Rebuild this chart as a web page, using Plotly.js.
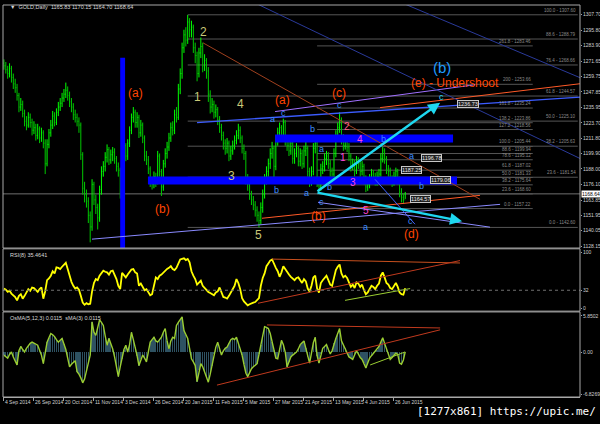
<!DOCTYPE html>
<html><head><meta charset="utf-8">
<script src="https://cdn.plot.ly/plotly-3.0.1.min.js"></script>
<style>html,body{margin:0;padding:0;background:#000;}#chart{width:600px;height:424px;}</style>
</head><body><div id="chart"></div>
<script>
// ---- price data (daily bars, 4 Sep 2014 .. 6 Jul 2015) ----
const priceClose = [1268,1265,1262,1266,1259,1254,1251,1245,1236,1238,1231,1225,1222,1228,1224,1218,1220,1214,1219,1212,1216,1208,1192,1207,1216,1222,1229,1224,1232,1236,1239,1243,1246,1249,1245,1240,1236,1230,1228,1225,1222,1199,1173,1168,1163,1152,1143,1176,1164,1158,1150,1172,1186,1190,1197,1203,1195,1199,1201,1196,1190,1187,1172,1210,1206,1198,1208,1218,1228,1232,1224,1228,1216,1222,1212,1198,1195,1188,1178,1176,1182,1178,1198,1186,1174,1192,1200,1205,1212,1220,1218,1230,1228,1250,1262,1282,1292,1288,1302,1296,1298,1282,1276,1262,1278,1283,1268,1272,1264,1246,1236,1238,1232,1234,1226,1220,1214,1208,1204,1208,1198,1202,1206,1210,1214,1218,1212,1204,1200,1180,1176,1168,1164,1160,1156,1152,1148,1158,1168,1180,1186,1192,1200,1204,1190,1210,1216,1220,1214,1224,1210,1206,1202,1208,1196,1200,1204,1194,1200,1192,1202,1204,1186,1178,1186,1204,1208,1178,1174,1188,1190,1196,1198,1192,1186,1184,1200,1214,1220,1226,1212,1206,1210,1205,1198,1190,1192,1186,1194,1192,1186,1190,1180,1174,1176,1180,1184,1182,1178,1182,1184,1196,1202,1196,1188,1186,1180,1178,1182,1186,1180,1170,1166,1164,1168.64];
const priceHigh = [1273,1271,1268,1270,1268,1262,1258,1254,1247,1243,1241,1234,1229,1232,1231,1227,1225,1223,1223,1221,1220,1218,1211,1211,1219,1226,1233,1232,1235,1240,1243,1247,1250,1255,1252,1248,1243,1239,1234,1231,1228,1224,1201,1178,1172,1166,1155,1180,1178,1168,1161,1175,1190,1194,1201,1207,1205,1203,1205,1204,1198,1193,1189,1214,1213,1208,1211,1221,1231,1236,1234,1232,1230,1226,1224,1214,1202,1198,1190,1182,1186,1185,1202,1200,1188,1195,1204,1209,1216,1224,1225,1234,1236,1254,1266,1286,1296,1298,1307.5,1305,1303,1300,1286,1279,1282,1290,1286,1277,1274,1267,1249,1243,1241,1238,1236,1229,1223,1217,1211,1212,1210,1206,1210,1214,1218,1223,1221,1214,1207,1202,1184,1179,1171,1167,1163,1159,1155,1162,1172,1184,1190,1196,1204,1209,1206,1214,1220,1224,1222,1227,1226,1213,1209,1212,1210,1204,1208,1206,1204,1203,1206,1209,1206,1189,1190,1208,1213,1210,1181,1192,1194,1200,1202,1201,1195,1189,1204,1218,1224,1232,1228,1215,1214,1212,1208,1200,1196,1195,1198,1197,1195,1194,1192,1183,1180,1184,1188,1187,1185,1186,1188,1200,1205,1204,1198,1191,1189,1183,1186,1189,1188,1182,1173,1169,1170.15];
const priceLow = [1265,1262,1258,1259,1255,1250,1247,1241,1232,1233,1228,1221,1218,1220,1220,1214,1215,1210,1211,1208,1209,1204,1184,1190,1204,1213,1219,1221,1222,1229,1233,1236,1240,1243,1241,1236,1232,1226,1224,1221,1216,1195,1168,1162,1158,1146,1131,1140,1160,1153,1141,1147,1168,1182,1186,1193,1191,1192,1194,1192,1186,1182,1165,1169,1201,1194,1195,1205,1215,1224,1220,1220,1212,1213,1208,1194,1191,1184,1174,1172,1173,1174,1176,1182,1167,1171,1189,1196,1202,1209,1214,1215,1224,1226,1246,1258,1278,1283,1285,1290,1290,1278,1270,1256,1259,1274,1263,1264,1258,1240,1231,1232,1227,1228,1222,1216,1210,1203,1199,1200,1194,1195,1199,1203,1207,1211,1208,1200,1195,1176,1171,1164,1160,1156,1151,1147,1142.6,1145,1154,1165,1176,1182,1188,1196,1180,1187,1206,1212,1210,1210,1206,1202,1198,1199,1192,1192,1197,1190,1190,1188,1189,1198,1182,1174,1175,1183,1200,1174,1169,1171,1184,1186,1191,1188,1182,1180,1181,1197,1210,1216,1207,1202,1203,1201,1194,1186,1187,1182,1184,1188,1182,1183,1176,1170,1171,1173,1177,1178,1175,1175,1179,1182,1193,1192,1184,1182,1176,1174,1175,1179,1176,1166,1162,1161,1164.70];
const rsiValues = [35,33,29,31,26,23,20,14,22,25,17,22,28,34,31,37,36,33,29,34,37,17,30,50,53,58,66,62,73,72,70,74,78,81,70,58,47,40,35,37,33,22,10,6,9,7,8,30,45,52,50,58,63,67,65,64,60,66,67,60,52,40,34,63,58,55,60,64,69,70,64,62,40,44,38,32,34,29,23,25,40,55,52,58,60,64,66,70,72,75,70,68,72,80,87,88,89,86,88,82,66,58,52,42,45,49,40,36,33,29,27,25,23,28,30,37,28,20,19,17,22,28,34,40,52,45,34,18,12,8,5,7,9,10,11,14,18,40,54,62,75,80,85,87,78,72,66,56,64,75,70,64,60,56,52,50,54,55,50,45,52,48,35,30,40,55,58,35,28,45,50,55,58,50,42,40,55,68,74,78,62,55,58,54,46,38,42,36,46,44,38,42,32,25,28,34,40,38,34,40,44,58,64,55,45,42,36,34,40,45,38,28,25,24,35.46];
const osmaValues = [-0.5,-0.8,-1.0,-0.4,0.0,-0.8,-1.5,-2.1,0.2,0.9,0.4,0.0,0.6,1.1,1.4,1.6,1.4,1.2,1.1,0.3,-0.5,-1.9,-0.2,1.6,2.3,3.0,2.8,2.5,2.0,1.6,1.9,2.2,1.3,0.4,-1.0,-2.4,-2.0,-1.6,-1.4,-3.2,-3.6,-4.2,-5.0,-4.4,-3.2,-1.8,-0.5,4.9,3.2,2.7,3.8,5.2,4.8,4.3,2.6,1.1,2.2,1.4,0.5,-0.8,-2.2,-4.0,-2.4,-1.1,0.4,1.1,0.0,1.2,3.2,2.0,0.8,-0.6,-2.2,-1.2,-0.5,-1.0,-1.6,0.0,1.6,2.0,2.4,1.8,1.6,2.0,2.4,3.2,3.8,1.8,0.5,1.8,2.4,2.2,4.3,4.8,5.3,5.7,3.5,2.7,2.2,0.6,-1.1,-1.6,-2.2,-4.8,-3.0,-1.9,-2.4,-3.3,-4.2,-4.9,-3.6,-2.2,-0.4,0.8,1.6,0.4,-0.5,0.2,0.6,0.8,1.4,2.0,2.2,2.0,2.4,1.4,0.5,-0.5,-2.0,-3.4,-4.0,-3.4,-2.7,-2.4,-2.1,-1.9,-0.4,1.1,2.6,4.1,4.0,3.8,3.0,1.6,0.4,-1.0,-1.1,0.6,1.9,1.2,0.0,-2.4,-1.6,-0.8,-0.5,-0.2,0.0,0.5,1.2,1.5,1.8,0.6,-0.8,-1.8,-0.2,1.5,2.4,-0.6,-1.8,-0.4,0.6,0.9,1.2,0.4,-0.3,0.2,1.4,2.2,3.0,3.8,1.8,1.2,0.6,0.0,-0.8,-1.0,-1.2,-0.5,0.2,-0.3,-0.9,-1.2,-1.8,-2.6,-1.8,-1.0,-0.6,-0.2,0.1,0.4,0.9,1.6,2.3,1.4,0.4,-0.4,-1.2,-0.9,-0.6,-0.2,-0.4,-1.8,-2.0,-1.3,0.01];
const firstOpen = 1270;

// ---- axis ticks ----
const dateTickBars = [0,16,32,48,64,80,96,112,128,144,160,176,192,208];
const dateTickText = ["4 Sep 2014","26 Sep 2014","20 Oct 2014","11 Nov 2014","3 Dec 2014","26 Dec 2014","20 Jan 2015","11 Feb 2015","5 Mar 2015","27 Mar 2015","21 Apr 2015","13 May 2015","4 Jun 2015","26 Jun 2015"];
const priceTicks = [1307.70,1295.80,1283.90,1271.65,1259.75,1247.85,1235.95,1223.70,1211.80,1199.90,1188.00,1176.10,1163.85,1151.95,1140.05,1128.15];
const rsiTicks = [0,32,100];
const osmaTicks = [-6.85,0,5.8502];
const osmaTickText = ["-6.8269","0.00","5.8502"];
const lastPrice = 1168.64;

// ---- fibonacci levels ----
const fibARatios = ["100.0","88.6","76.4","61.8","50.0","38.2","23.6","0.0"];
const fibALevels = [1307.60,1288.79,1268.66,1244.57,1225.10,1205.63,1181.54,1142.60];
const fibASpan = [98,306];
const fibBRatios = ["261.8","200","161.8","138.2","127.2","100.0","88.6","78.6","61.8","50.0","38.2","23.6","0.0"];
const fibBLevels = [1283.46,1253.66,1235.24,1223.86,1218.56,1205.44,1199.94,1195.12,1187.02,1181.33,1175.64,1168.60,1157.22];
const fibBSpan = [167,282];

// ---- blue zones [bar0, bar1, price0, price1] ----
const blueZones = [[62,64.6,1126.6,1274.2],[76.8,241.6,1176.0,1182.2],[144.6,239.5,1208.5,1214.7]];

// ---- trend lines [bar0, price0, bar1, price1, color, width] ----
const trendLines = [
  [46.96,1133.5,264.6,1160.5,"#8a8aff",1],
  [102.97,1224.0,307.2,1243.7,"#3c5cff",1.3],
  [144.6,1232.5,251.2,1253.3,"#a070ff",1],
  [200.6,1235.6,307.2,1254.1,"#ff5a28",1],
  [106.2,1285.8,253.9,1164.4,"#a0401e",1],
  [137.6,1149.7,253.9,1167.5,"#ff5a28",1],
  [133.9,1316.8,307.2,1196.1,"#2a3a9a",1],
  [208.6,1319.1,307.2,1258.8,"#2a3a9a",1],
  [197.9,1179.9,219.2,1145.1,"#4060ff",1],
  [167.5,1162.1,259.2,1142.8,"#8a8aff",1]
];
const rsiLines = [[143,87.7,243.2,80.7,"#c8501e"],[135.5,8.8,243.2,85.0,"#c03a1e"],[181.9,14,216.6,35,"#9acd32"]];
const osmaLines = [[140.3,4.39,232.6,3.9,"#c03a1e"],[113.6,-5.37,232.6,3.6,"#c03a1e"],[195.3,-2.1,213.9,0,"#9acd32"]];

// ---- cyan projection arrows [fromBar, fromPrice, toBar, toPrice] ----
const arrows = [[166.4,1169.8,232.6,1239.4],[166.4,1169.8,244.3,1147.4]];

// ---- wave labels [bar, price, text, color, size] ----
const waveLabels = [
  [69.9,1247.2,"(a)","#ff4500",12],[84.8,1156.7,"(b)","#ff4500",12],[98.2,1315.5,"(c)","#ff4500",12],
  [106.2,1294.3,"2","#c8c878",12],[103,1244.1,"1","#c8c878",12],[126,1238.6,"4","#c8c878",12],
  [121.6,1182.2,"3","#c8c878",12],[136,1136.6,"5","#c8c878",12],
  [148.3,1241.7,"(a)","#ff4500",12],[178.7,1247.2,"(c)","#ff4500",12],[168,1151.3,"(b)","#ff4500",12],
  [217.1,1137.3,"(d)","#ff4500",12],[240.6,1254.9,"(e) - Undershoot","#ff4500",12],
  [233.6,1266.5,"(b)","#1e9bff",15],
  [143,1226.5,"a","#3c8cff",9],[149,1231.7,"c","#3c8cff",9],[178.7,1237.9,"c","#3c8cff",9],
  [164.8,1219.3,"b","#3c8cff",9],[169.6,1203.1,"a","#3c8cff",9],[202.2,1211.6,"b","#3c8cff",9],
  [145.6,1171.4,"b","#3c8cff",9],[161.6,1169.0,"a","#3c8cff",9],[169.1,1162.1,"c","#3c8cff",9],
  [173.4,1173.7,"b","#3c8cff",9],[192.6,1142.7,"a","#3c8cff",9],[216.6,1147.4,"c","#3c8cff",9],
  [222.9,1174.5,"b","#3c8cff",9],[217.6,1197.7,"a","#3c8cff",9],[233.6,1244.1,"c","#20d8ff",9],
  [183,1220.9,"2","#ff5c8a",10],[190,1210.8,"4","#ff44dd",10],[180.8,1196.9,"1","#ff44dd",10],
  [186.2,1177.6,"3","#ff44dd",10],[193.1,1155.9,"5","#ff44dd",10]
];
// ---- price tags [bar, price, text] ----
const priceTags = [[247.5,1238.6,"1236.73"],[227.8,1196.78,"1196.78"],[217.6,1187.25,"1187.25"],[232.6,1179.06,"1179.06"],[221.9,1164.57,"1164.57"]];

// ---------------------------------------------------------------
const bars = priceClose.map((_, i) => i);
const priceOpen = [firstOpen].concat(priceClose.slice(0, -1));
const axFont = {family: "Liberation Sans", size: 5, color: "#d0d0d0"};

const traces = [
  {type: "ohlc", x: bars, open: priceOpen, high: priceHigh, low: priceLow, close: priceClose,
   xaxis: "x", yaxis: "y", tickwidth: 0.3, hoverinfo: "none",
   increasing: {line: {color: "#00ff00", width: 1}}, decreasing: {line: {color: "#00c800", width: 1}}},
  {type: "scatter", mode: "lines", x: bars, y: rsiValues, xaxis: "x", yaxis: "y2",
   line: {color: "#ffff00", width: 1.8}, hoverinfo: "none"},
  {type: "bar", x: bars, y: osmaValues, xaxis: "x", yaxis: "y3", width: 0.7,
   marker: {color: "#2e5262", line: {width: 0}}, hoverinfo: "none"},
  {type: "scatter", mode: "lines", x: bars, y: osmaValues, xaxis: "x", yaxis: "y3",
   line: {color: "#9acd32", width: 1.4}, hoverinfo: "none"}
];

const shapes = [];
const annotations = [];
const fibFont = {family: "Liberation Sans", size: 4.5, color: "#8a8a8a"};
fibALevels.forEach((lv, k) => {
  shapes.push({type: "line", xref: "x", yref: "y", x0: fibASpan[0], x1: fibASpan[1], y0: lv, y1: lv, layer: "below", line: {color: "#555555", width: 1}});
  annotations.push({xref: "x", yref: "y", x: fibASpan[1], y: lv, text: fibARatios[k] + " - " + lv.toFixed(2), showarrow: false, xanchor: "right", yanchor: "bottom", font: fibFont});
});
fibBLevels.forEach((lv, k) => {
  shapes.push({type: "line", xref: "x", yref: "y", x0: fibBSpan[0], x1: fibBSpan[1], y0: lv, y1: lv, layer: "below", line: {color: "#555555", width: 1}});
  annotations.push({xref: "x", yref: "y", x: fibBSpan[1], y: lv, text: fibBRatios[k] + " - " + lv.toFixed(2), showarrow: false, xanchor: "right", yanchor: "bottom", font: fibFont});
});
shapes.push({type: "line", xref: "paper", yref: "y", x0: 0, x1: 1, y0: lastPrice, y1: lastPrice, layer: "below", line: {color: "#707070", width: 1}});
blueZones.forEach(z => shapes.push({type: "rect", xref: "x", yref: "y", x0: z[0], x1: z[1], y0: z[2], y1: z[3], fillcolor: "#0000ff", line: {width: 0}, layer: "above"}));
trendLines.forEach(t => shapes.push({type: "line", xref: "x", yref: "y", x0: t[0], y0: t[1], x1: t[2], y1: t[3], line: {color: t[4], width: t[5]}, layer: "above"}));
rsiLines.forEach(t => shapes.push({type: "line", xref: "x", yref: "y2", x0: t[0], y0: t[1], x1: t[2], y1: t[3], line: {color: t[4], width: 1}}));
osmaLines.forEach(t => shapes.push({type: "line", xref: "x", yref: "y3", x0: t[0], y0: t[1], x1: t[2], y1: t[3], line: {color: t[4], width: 1}}));
shapes.push({type: "line", xref: "paper", yref: "y2", x0: 0, x1: 1, y0: 32, y1: 32, line: {color: "#707070", width: 1, dash: "dot"}});
[[0.380, 1], [0.219, 0.378], [0, 0.217]].forEach(d => shapes.push({type: "rect", xref: "paper", yref: "paper", x0: 0, x1: 1, y0: d[0], y1: d[1], line: {color: "#a8a8a8", width: 1}}));

arrows.forEach(a => annotations.push({xref: "x", yref: "y", axref: "x", ayref: "y", x: a[2], y: a[3], ax: a[0], ay: a[1], text: "", showarrow: true, arrowhead: 2, arrowsize: 1, arrowwidth: 2.4, arrowcolor: "#1ed8f0"}));
waveLabels.forEach(w => annotations.push({xref: "x", yref: "y", x: w[0], y: w[1], text: w[2], showarrow: false, font: {family: "Liberation Sans", size: w[4], color: w[3]}}));
priceTags.forEach(p => annotations.push({xref: "x", yref: "y", x: p[0], y: p[1], text: p[2], showarrow: false, bgcolor: "#202020", bordercolor: "#c8c8c8", borderwidth: 1, borderpad: 0, font: {family: "Liberation Sans", size: 5.5, color: "#e8e8e8"}}));
annotations.push({xref: "paper", yref: "y", x: 1.002, y: lastPrice, xanchor: "left", text: lastPrice.toFixed(2), showarrow: false, bgcolor: "#ffffff", borderpad: 0, font: {family: "Liberation Sans", size: 5, color: "#000000"}});
annotations.push({xref: "paper", yref: "paper", x: 0.008, y: 0.995, xanchor: "left", yanchor: "middle", showarrow: false, text: "\u25BC  GOLD,Daily  1165.83 1170.15 1164.70 1168.64", font: {family: "Liberation Sans", size: 5.5, color: "#d8d8d8"}});
annotations.push({xref: "paper", yref: "paper", x: 0.008, y: 0.362, xanchor: "left", yanchor: "middle", showarrow: false, text: "RSI(8) 35.4641", font: {family: "Liberation Sans", size: 5.5, color: "#d8d8d8"}});
annotations.push({xref: "paper", yref: "paper", x: 0.008, y: 0.202, xanchor: "left", yanchor: "middle", showarrow: false, text: "OsMA(5,12,3) 0.0115  sMA(3) 0.0115", font: {family: "Liberation Sans", size: 5.5, color: "#d8d8d8"}});
annotations.push({xref: "paper", yref: "paper", x: 1.031, y: -0.038, xanchor: "right", yanchor: "middle", showarrow: false, text: "[1277x861] https://upic.me/", font: {family: "DejaVu Sans Mono", size: 11, color: "#ffffff"}});

const layout = {
  width: 600, height: 424,
  margin: {l: 3, r: 20, t: 5, b: 27},
  paper_bgcolor: "#000000", plot_bgcolor: "#000000",
  showlegend: false, bargap: 0,
  xaxis: {range: [-0.5, 307.2], anchor: "y3", tickvals: dateTickBars, ticktext: dateTickText, tickangle: 0,
          ticklabelposition: "outside right", tickfont: axFont, ticks: "outside", ticklen: 3, tickcolor: "#a0a0a0",
          showgrid: false, zeroline: false, showline: true, linecolor: "#a8a8a8", rangeslider: {visible: false}},
  yaxis: {domain: [0.380, 1], range: [1126.6, 1315.2], side: "right", anchor: "x", tickvals: priceTicks,
          ticktext: priceTicks.map(v => v.toFixed(2)), tickfont: axFont, ticks: "outside", ticklen: 1, tickcolor: "#a0a0a0",
          showgrid: false, zeroline: false},
  yaxis2: {domain: [0.219, 0.378], range: [-5.3, 106], side: "right", anchor: "x", tickvals: rsiTicks,
           tickfont: axFont, ticks: "outside", ticklen: 1, tickcolor: "#a0a0a0", showgrid: false, zeroline: false},
  yaxis3: {domain: [0, 0.217], range: [-7.3, 6.5], side: "right", anchor: "x", tickvals: osmaTicks, ticktext: osmaTickText,
           tickfont: axFont, ticks: "outside", ticklen: 1, tickcolor: "#a0a0a0", showgrid: false, zeroline: false},
  shapes: shapes, annotations: annotations
};
Plotly.newPlot("chart", traces, layout, {staticPlot: true, displayModeBar: false});
</script></body></html>
